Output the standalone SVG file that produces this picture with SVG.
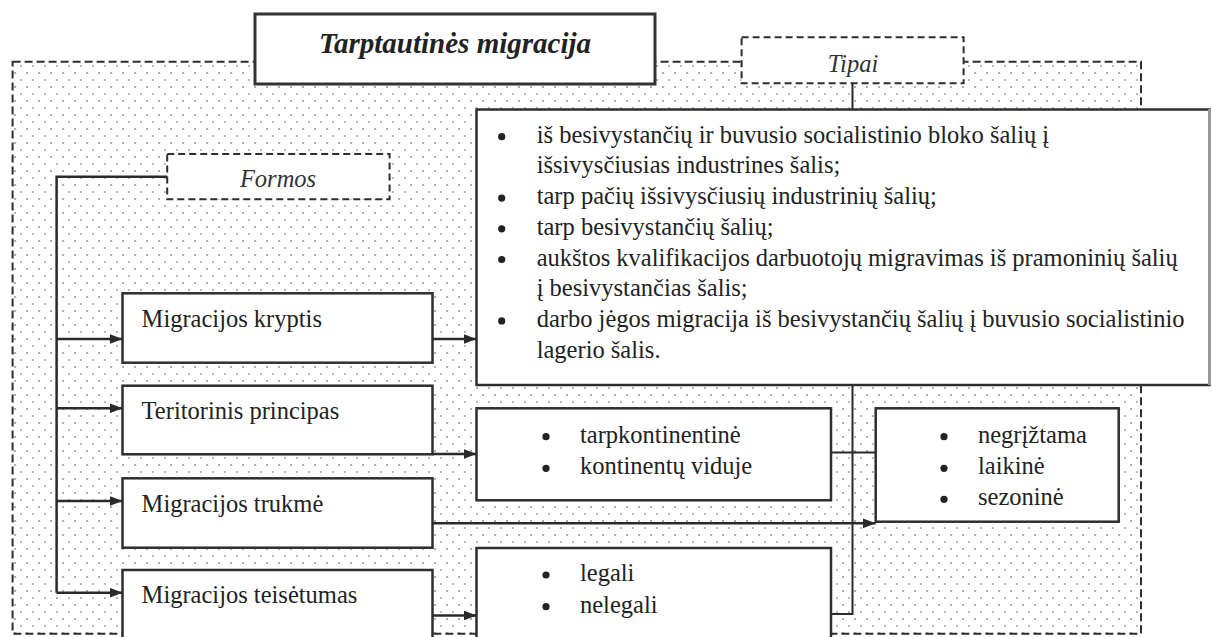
<svg xmlns="http://www.w3.org/2000/svg" width="1213" height="637" viewBox="0 0 1213 637">
<defs>
<pattern id="dots" x="0" y="0" width="12" height="14" patternUnits="userSpaceOnUse">
<circle cx="3" cy="3" r="0.95" fill="#8c8c8c"/>
<circle cx="9" cy="10" r="0.95" fill="#9c9c9c"/>
</pattern>
<marker id="arr" viewBox="0 0 13 10" refX="13" refY="5" markerWidth="13" markerHeight="10" markerUnits="userSpaceOnUse" orient="auto">
<path d="M0,0 L13,5 L0,10 z" fill="#2a2a2a"/>
</marker>
<style>
.box{fill:#fff;stroke:#2e2e2e;stroke-width:2.5}
.dbox{fill:#fff;stroke:#2e2e2e;stroke-width:2;stroke-dasharray:7 4}
.t{font-family:'Liberation Serif','Times New Roman',serif;font-size:24.5px;fill:#222}
.it{font-style:italic;fill:#333}
.title{font-family:'Liberation Serif','Times New Roman',serif;font-size:29px;font-weight:bold;font-style:italic;fill:#222}
.c{fill:none;stroke:#2a2a2a;stroke-width:2.5}
.thin{fill:none;stroke:#2a2a2a;stroke-width:2}
.ar{marker-end:url(#arr)}
.b{fill:#222}
</style>
</defs>
<rect width="1213" height="637" fill="#fff"/>
<g id="outer">
<rect x="12.6" y="61.7" width="1128.4" height="572" fill="url(#dots)" stroke="#2e2e2e" stroke-width="2" stroke-dasharray="8 4"/>
</g>
<g id="title">
<rect x="255" y="14" width="400" height="70" fill="#fff" stroke="#333" stroke-width="3"/>
<text class="title" x="455" y="53" text-anchor="middle">Tarptautinės migracija</text>
</g>
<g id="tipai">
<rect class="dbox" x="741.6" y="37.3" width="222" height="46"/>
<text class="t it" x="853" y="71.5" text-anchor="middle">Tipai</text>
</g>
<g id="formos">
<rect class="dbox" x="167.2" y="154" width="222.4" height="45.3"/>
<text class="t it" x="278" y="186.5" text-anchor="middle">Formos</text>
</g>
<g id="tipai-list">
<rect class="box" x="476.5" y="109.5" width="733" height="275.5"/>
<line x1="1209.5" y1="109" x2="1209.5" y2="385" stroke="#9a9a9a" stroke-width="3"/>
<circle class="b" cx="501.7" cy="136.7" r="3.6"/>
<circle class="b" cx="501.7" cy="198.1" r="3.6"/>
<circle class="b" cx="501.7" cy="228.8" r="3.6"/>
<circle class="b" cx="501.7" cy="259.5" r="3.6"/>
<circle class="b" cx="501.7" cy="320.9" r="3.6"/>
<text class="t" x="536.7" y="142.7">iš besivystančių ir buvusio socialistinio bloko šalių į</text>
<text class="t" x="536.7" y="173.4">išsivysčiusias industrines šalis;</text>
<text class="t" x="536.7" y="204.1">tarp pačių išsivysčiusių industrinių šalių;</text>
<text class="t" x="536.7" y="234.8">tarp besivystančių šalių;</text>
<text class="t" x="536.7" y="265.5">aukštos kvalifikacijos darbuotojų migravimas iš pramoninių šalių</text>
<text class="t" x="536.7" y="296.2">į besivystančias šalis;</text>
<text class="t" x="536.7" y="326.9">darbo jėgos migracija iš besivystančių šalių į buvusio socialistinio</text>
<text class="t" x="536.7" y="357.6">lagerio šalis.</text>
</g>
<g id="kryptis">
<rect class="box" x="122.5" y="293.3" width="310" height="69.4"/>
<text class="t" x="141.6" y="326.6">Migracijos kryptis</text>
</g>
<g id="teritorinis">
<rect class="box" x="122.5" y="385.7" width="310" height="68.6"/>
<text class="t" x="141.6" y="419">Teritorinis principas</text>
</g>
<g id="trukme">
<rect class="box" x="122.5" y="478.3" width="310" height="69.4"/>
<text class="t" x="141.6" y="511.6">Migracijos trukmė</text>
</g>
<g id="teisetumas">
<rect class="box" x="122.5" y="570" width="310" height="80"/>
<text class="t" x="141.6" y="603.3">Migracijos teisėtumas</text>
</g>
<g id="tarpkontinentine">
<rect class="box" x="476.5" y="408.3" width="354.5" height="92"/>
<circle class="b" cx="546" cy="436.7" r="3.6"/>
<circle class="b" cx="546" cy="468.3" r="3.6"/>
<text class="t" x="580" y="442.7">tarpkontinentinė</text>
<text class="t" x="580" y="474.3">kontinentų viduje</text>
</g>
<g id="legali">
<rect class="box" x="476.5" y="548" width="354.5" height="100"/>
<circle class="b" cx="546" cy="575" r="3.6"/>
<circle class="b" cx="546" cy="606.7" r="3.6"/>
<text class="t" x="580" y="581">legali</text>
<text class="t" x="580" y="612.7">nelegali</text>
</g>
<g id="negrizta">
<rect class="box" x="875.7" y="408.3" width="243" height="113.4"/>
<circle class="b" cx="944" cy="436.7" r="3.6"/>
<circle class="b" cx="944" cy="468.3" r="3.6"/>
<circle class="b" cx="944" cy="499.3" r="3.6"/>
<text class="t" x="978" y="442.7">negrįžtama</text>
<text class="t" x="978" y="474.3">laikinė</text>
<text class="t" x="978" y="505.3">sezoninė</text>
</g>
<g id="connectors">
<polyline class="c" points="167.2,176.7 56.6,176.7 56.6,592.7"/>
<line class="c ar" x1="56.6" y1="339" x2="122.5" y2="339"/>
<line class="c ar" x1="56.6" y1="408.3" x2="122.5" y2="408.3"/>
<line class="c ar" x1="56.6" y1="501" x2="122.5" y2="501"/>
<line class="c ar" x1="56.6" y1="592.7" x2="122.5" y2="592.7"/>
<line class="c ar" x1="432.5" y1="339" x2="476.5" y2="339"/>
<line class="c ar" x1="432.5" y1="454" x2="476.5" y2="454"/>
<line class="c ar" x1="432.5" y1="523.3" x2="875.7" y2="523.3"/>
<line class="c ar" x1="432.5" y1="615.5" x2="476.5" y2="615.5"/>
<line class="thin" x1="852.5" y1="83.3" x2="852.5" y2="109.5"/>
<polyline class="thin" points="852.5,385 852.5,614 831,614"/>
<line class="thin" x1="831" y1="452.5" x2="875.7" y2="452.5"/>
</g>
</svg>
